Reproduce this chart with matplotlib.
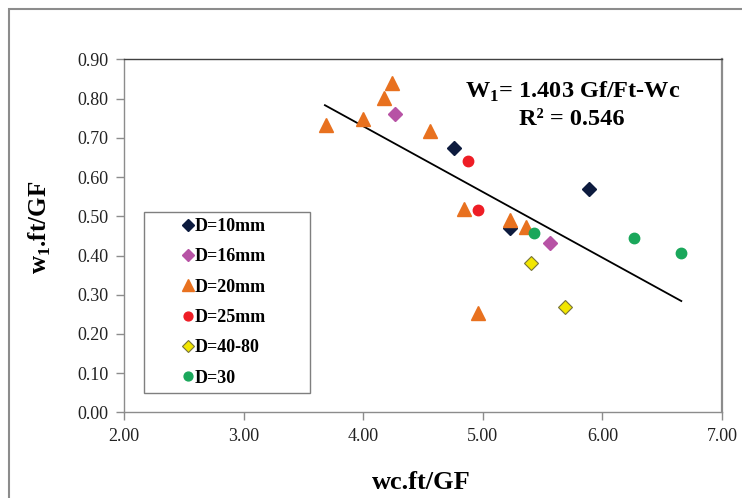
import matplotlib
matplotlib.use('Agg')
import matplotlib.pyplot as plt
from matplotlib.patches import Rectangle

plt.rcParams['font.family'] = ['Liberation Serif', 'DejaVu Serif']
plt.rcParams['mathtext.fontset'] = 'custom'
plt.rcParams['mathtext.rm'] = 'Liberation Serif'
plt.rcParams['mathtext.bf'] = 'Liberation Serif:bold'

# datos
d10_x = [4.76, 5.89, 5.23]
d10_y = [0.674, 0.570, 0.471]
d16_x = [4.27, 5.56]
d16_y = [0.760, 0.433]
d20_x = [3.69, 4.00, 4.17, 4.245, 4.56, 4.84, 5.225, 5.36, 4.96]
d20_y = [0.733, 0.747, 0.802, 0.840, 0.718, 0.518, 0.490, 0.473, 0.253]
d25_x = [4.88, 4.96]
d25_y = [0.642, 0.515]
d4080_x = [5.40, 5.69]
d4080_y = [0.380, 0.268]
d30_x = [5.43, 6.265, 6.66]
d30_y = [0.457, 0.444, 0.407]

trend_x = [3.68, 6.66]
trend_y = [0.783, 0.284]

x_ticks = [2, 3, 4, 5, 6, 7]
y_ticks = [0.0, 0.1, 0.2, 0.3, 0.4, 0.5, 0.6, 0.7, 0.8, 0.9]

fig = plt.figure(figsize=(7.42, 4.98), dpi=100)
ax = fig.add_axes([0.1671, 0.1717, 0.8059, 0.7093])

# marco exterior del grafico
fig.patches.append(Rectangle((9 / 742, -0.1), 1.2, 1 - 9 / 498 + 0.1, transform=fig.transFigure,
                             fill=False, edgecolor='#8c8c8c', linewidth=1.5))

ax.plot(trend_x, trend_y, color='black', linewidth=1.3, zorder=2)

ax.plot(d10_x, d10_y, 'D', color='#0d1b3e', markersize=7, label='D=10mm', zorder=3)
ax.plot(d16_x, d16_y, 'D', color='#b753a5', markersize=7, label='D=16mm', zorder=3)
ax.plot(d20_x, d20_y, '^', color='#e8711f', markersize=10, label='D=20mm', zorder=3)
ax.plot(d25_x, d25_y, 'o', color='#ee1d25', markersize=7.5, label='D=25mm', zorder=3)
ax.plot(d4080_x, d4080_y, 'D', markerfacecolor='#f2e600', markeredgecolor='#77733a',
        markeredgewidth=0.8, markersize=7, label='D=40-80', linestyle='none', zorder=3)
ax.plot(d30_x, d30_y, 'o', color='#1aa75b', markersize=7.5, label='D=30', zorder=3)

ax.set_xlim(2, 7)
ax.set_ylim(0, 0.9)
ax.set_xticks(x_ticks)
ax.set_yticks(y_ticks)
ax.set_xticklabels(['%.2f' % v for v in x_ticks])
ax.set_yticklabels(['%.2f' % v for v in y_ticks])
ax.tick_params(direction='out', length=6, width=1, color='#8c8c8c', labelsize=13,
               labelcolor='#222222', pad=5)

for s in ['left', 'bottom']:
    ax.spines[s].set_color('#8c8c8c')
    ax.spines[s].set_linewidth(1)
ax.spines['right'].set_color('#8c8c8c')
ax.spines['right'].set_linewidth(1.6)
ax.spines['top'].set_color('#404040')
ax.spines['top'].set_linewidth(1)

ax.set_xlabel('wc.ft/GF', fontsize=19, fontweight='bold')
ax.set_ylabel(r'w$_{\mathbf{1}}$.ft/GF', fontsize=18, fontweight='bold')
ax.xaxis.set_label_coords(0.498, -0.166)
ax.yaxis.set_label_coords(-0.118, 0.525)

ax.text(0.751, 0.909, r'W$_{\mathbf{1}}$= 1.403 Gf/Ft-Wc', transform=ax.transAxes,
        fontsize=17.5, fontweight='bold', ha='center', va='center')
ax.text(0.749, 0.829, 'R² = 0.546', transform=ax.transAxes,
        fontsize=17.5, fontweight='bold', ha='center', va='center')

leg = ax.legend(loc='upper left', bbox_to_anchor=(0.0334, 0.063, 0.2776, 0.504), mode='expand',
                borderaxespad=0, fancybox=False, edgecolor='#7f7f7f', framealpha=1,
                prop={'weight': 'bold', 'size': 13}, labelspacing=0.74, borderpad=0.32,
                handlelength=4.24, handletextpad=-1.73, numpoints=1, markerscale=0.85)
leg.get_frame().set_linewidth(1)

plt.savefig('out.png', dpi=100)
